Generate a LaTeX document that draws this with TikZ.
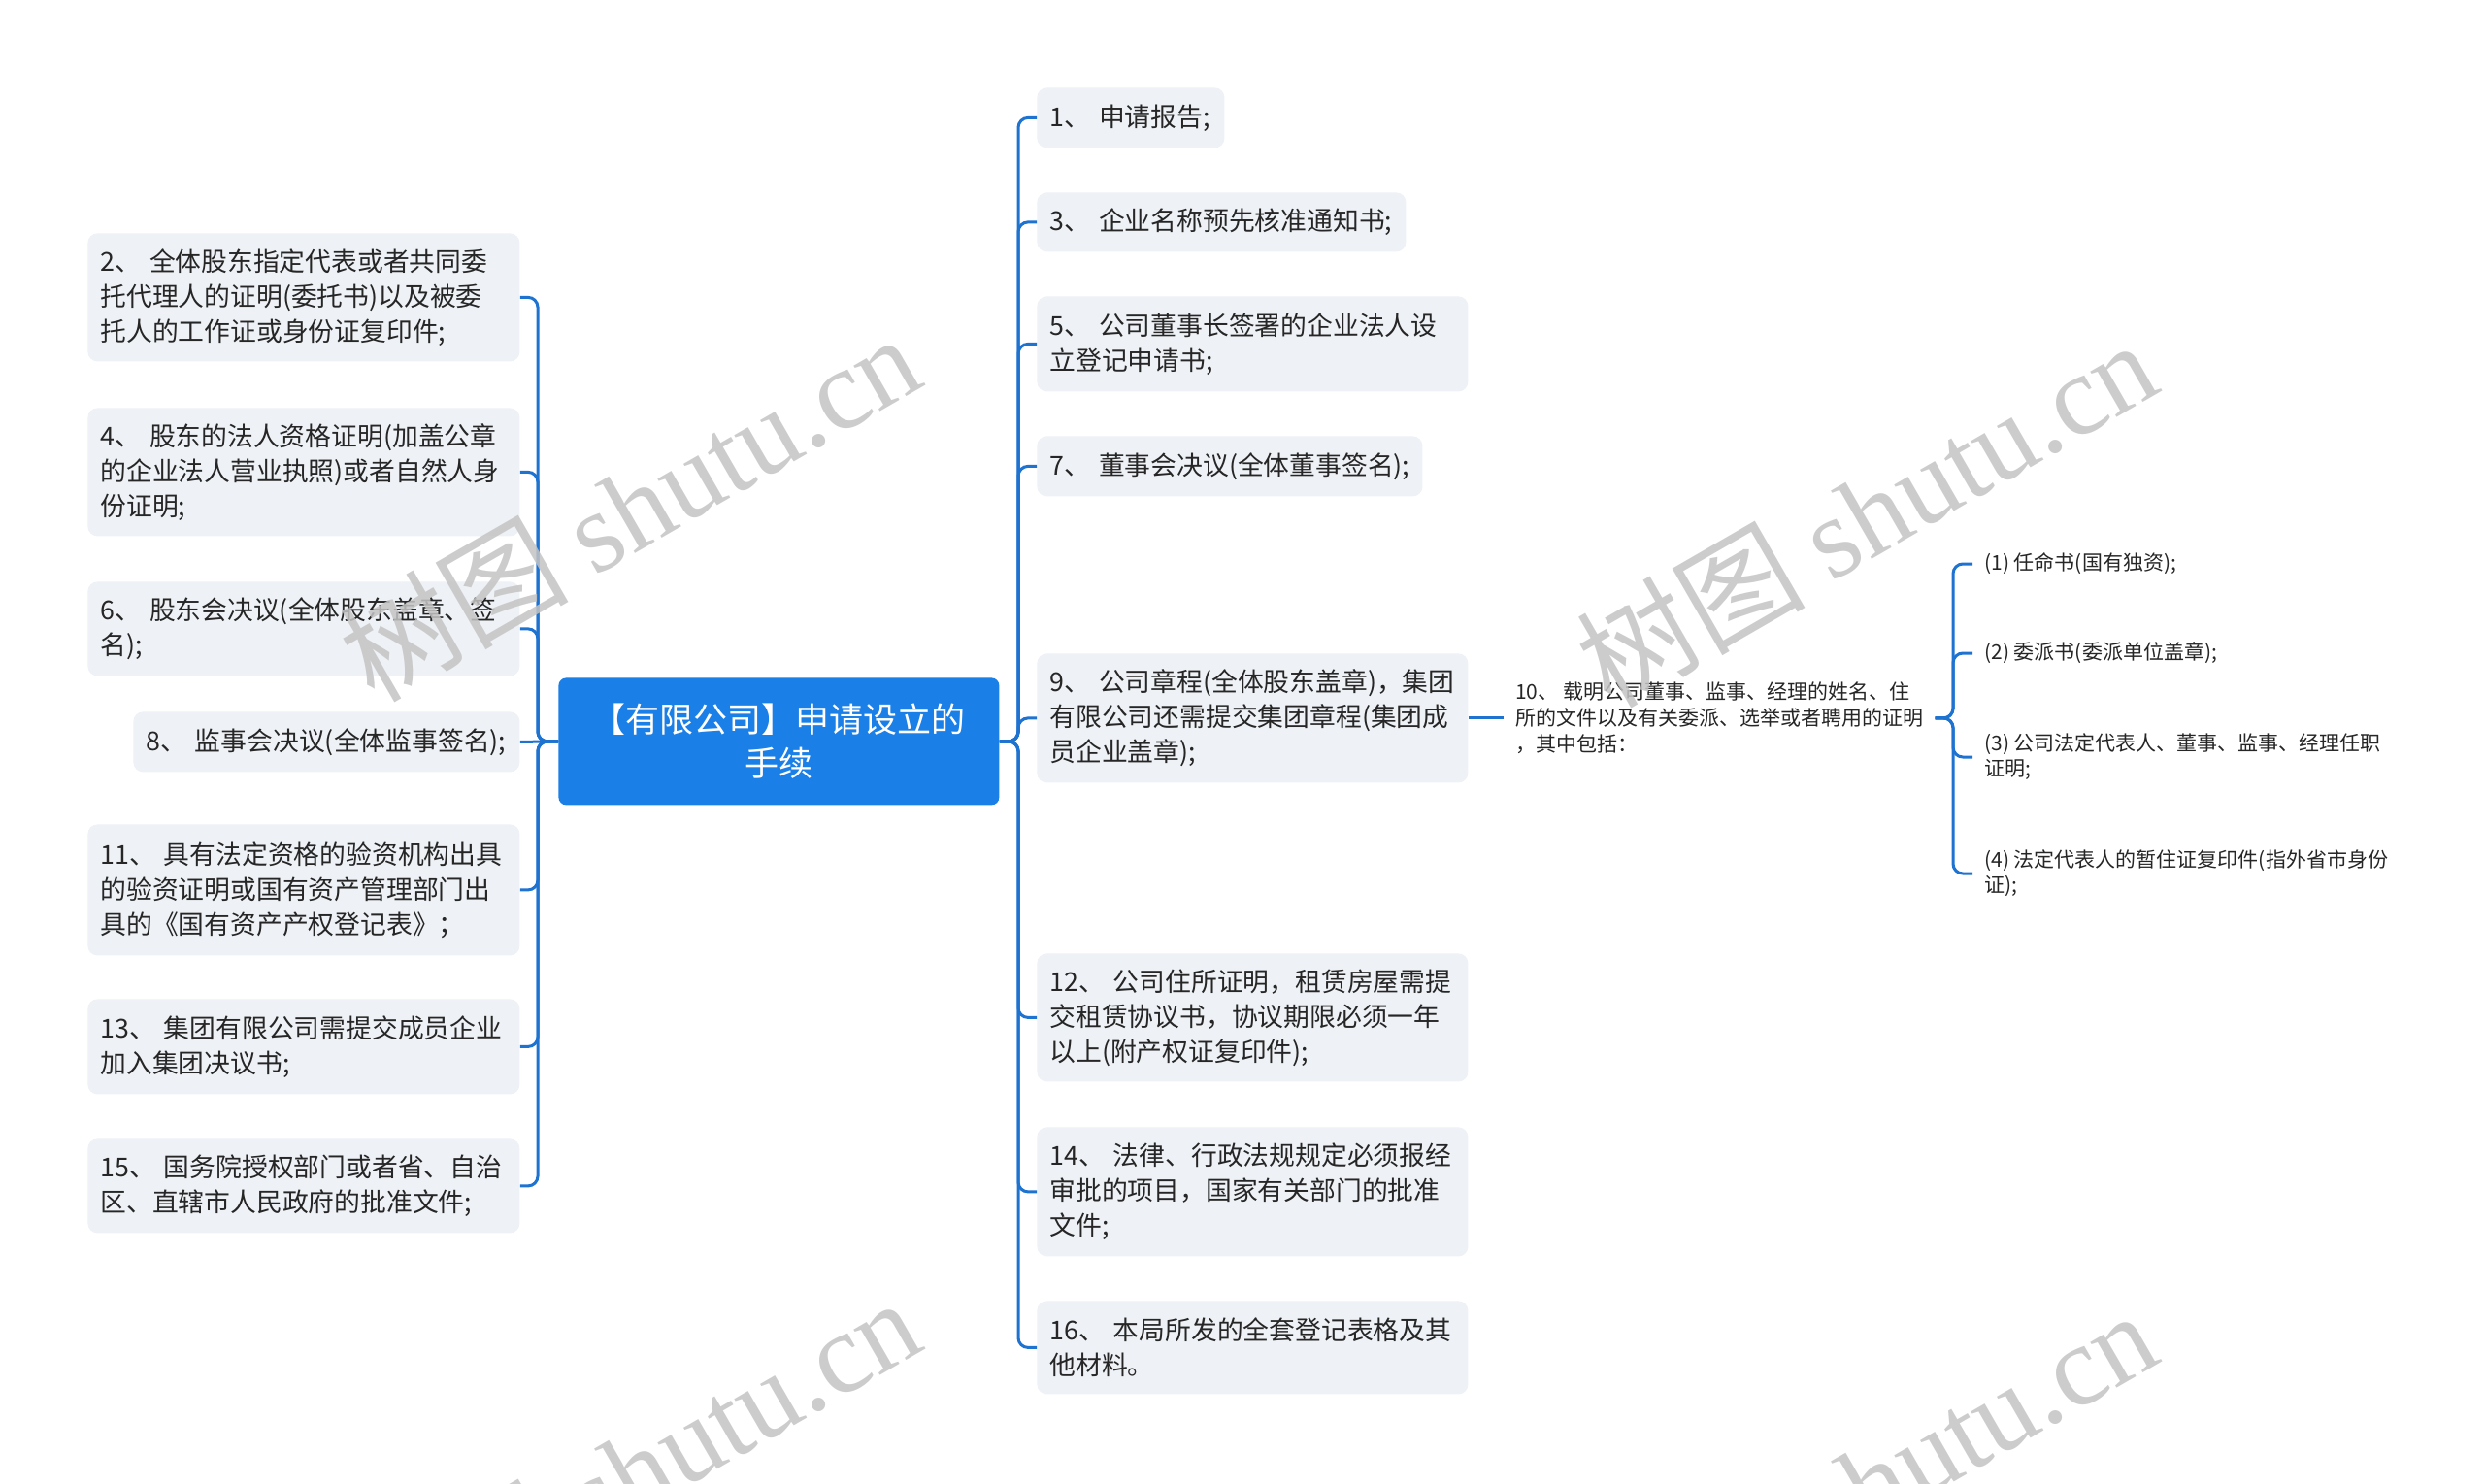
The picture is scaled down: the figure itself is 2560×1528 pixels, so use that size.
\documentclass[tikz,border=0pt]{standalone}
\usepackage{fontspec}
\setmainfont{Noto Sans CJK SC}
\newfontfamily\wmlatin{Liberation Serif}
\newfontfamily\wmcjk{Noto Sans CJK SC}
\usetikzlibrary{calc}
\definecolor{linkblue}{HTML}{1E72D0}
\definecolor{rootblue}{HTML}{1A7FE6}
\definecolor{boxgray}{HTML}{EEF1F5}
\definecolor{txtcol}{HTML}{262626}
\definecolor{wmcol}{HTML}{C4C4C4}
\hbadness=10000 \hfuzz=50pt
\begin{document}
\begin{tikzpicture}[x=0.5pt,y=-0.5pt,
  leaf/.style={fill=boxgray, rounded corners=5pt, inner xsep=6.5pt, inner ysep=0pt,
    align=left, text=txtcol, anchor=north west,
    font=\fontsize{13.4pt}{18pt}\selectfont},
  rootbox/.style={fill=rootblue, rounded corners=4pt, text=white, align=center,
    anchor=north west, inner sep=0pt,
    font=\fontsize{17.5pt}{22.5pt}\selectfont},
  plain/.style={inner xsep=6pt, inner ysep=2pt, align=left, text=txtcol,
    font=\fontsize{10.5pt}{13.5pt}\selectfont},
  subitem/.style={inner xsep=6pt, inner ysep=2pt, align=left, text=txtcol, anchor=west,
    font=\fontsize{10.5pt}{13pt}\selectfont},
  link/.style={draw=linkblue, line width=1.5pt, rounded corners=5pt},
  wmark/.style={text=wmcol, text opacity=0.85, font=\fontsize{59pt}{59pt}\selectfont, rotate=30}
]
\useasboundingbox (0,0) rectangle (2560,1528);
\fill[white] (0,0) rectangle (2560,1528);

\coordinate (ltrunk) at (554,0);
\coordinate (rtrunk) at (1049,0);
\coordinate (strunk) at (2012,0);

% root
\node[rootbox, minimum width=227pt, minimum height=65.5pt] (c) at (575,698)
  {【有限公司】申请设立的\\手续};

% left side
\node[leaf, text width=209.5pt, minimum height=66pt] (n2) at (90,240)
  {2、~全体股东指定代表或者共同委\\托代理人的证明(委托书)以及被委\\托人的工作证或身份证复印件;};
\node[leaf, text width=209.5pt, minimum height=66pt] (n4) at (90,420)
  {4、~股东的法人资格证明(加盖公章\\的企业法人营业执照)或者自然人身\\份证明;};
\node[leaf, text width=209.5pt, minimum height=48.5pt] (n6) at (90,599)
  {6、~股东会决议(全体股东盖章、签\\名);};
\node[leaf, text width=186pt, minimum height=31pt] (n8) at (137,733)
  {8、~监事会决议(全体监事签名);};
\node[leaf, text width=209.5pt, minimum height=67.5pt] (n11) at (90,849)
  {11、~具有法定资格的验资机构出具\\的验资证明或国有资产管理部门出\\具的《国有资产产权登记表》；};
\node[leaf, text width=209.5pt, minimum height=49pt] (n13) at (90,1029)
  {13、~集团有限公司需提交成员企业\\加入集团决议书;};
\node[leaf, text width=209.5pt, minimum height=48.5pt] (n15) at (90,1173)
  {15、~国务院授权部门或者省、自治\\区、直辖市人民政府的批准文件;};

% right side
\node[leaf, text width=83.5pt, minimum height=31pt] (r1) at (1068,90)
  {1、~申请报告;};
\node[leaf, text width=177pt, minimum height=30.5pt] (r3) at (1068,198)
  {3、~企业名称预先核准通知书;};
\node[leaf, text width=209pt, minimum height=49pt] (r5) at (1068,305)
  {5、~公司董事长签署的企业法人设\\立登记申请书;};
\node[leaf, text width=185.5pt, minimum height=31pt] (r7) at (1068,449)
  {7、~董事会决议(全体董事签名);};
\node[leaf, text width=209pt, minimum height=66.5pt] (r9) at (1068,673)
  {9、~公司章程(全体股东盖章)，集团\\有限公司还需提交集团章程(集团成\\员企业盖章);};
\node[leaf, text width=209pt, minimum height=66pt] (r12) at (1068,982)
  {12、~公司住所证明，租赁房屋需提\\交租赁协议书，协议期限必须一年\\以上(附产权证复印件);};
\node[leaf, text width=209pt, minimum height=66.5pt] (r14) at (1068,1161)
  {14、~法律、行政法规规定必须报经\\审批的项目，国家有关部门的批准\\文件;};
\node[leaf, text width=209pt, minimum height=48pt] (r16) at (1068,1340)
  {16、~本局所发的全套登记表格及其\\他材料。};

% node 10 and its children
\node[plain, anchor=west] (n10) at ([xshift=18pt]r9.east)
  {10、~载明公司董事、监事、经理的姓名、住\\所的文件以及有关委派、选举或者聘用的证明\\，其中包括：};
\node[subitem] (s1) at (2032,581) {(1)~任命书(国有独资);};
\node[subitem] (s2) at (2032,673) {(2)~委派书(委派单位盖章);};
\node[subitem] (s3) at (2032,780) {(3)~公司法定代表人、董事、监事、经理任职\\证明;};
\node[subitem] (s4) at (2032,900) {(4)~法定代表人的暂住证复印件(指外省市身份\\证);};

% connectors left
\foreach \n in {n2,n4,n6,n11,n13,n15}
  \draw[link] (c.west) -- (c.west -| ltrunk) |- (\n.east);
\draw[link] (c.west) -- (n8.east);
% connectors right
\foreach \n in {r1,r3,r5,r7,r9,r12,r14,r16}
  \draw[link] (c.east) -- (c.east -| rtrunk) |- (\n.west);
\draw[link] (r9.east) -- (n10.west);
\foreach \n in {s1,s2,s3,s4}
  \draw[link] (n10.east) -- (n10.east -| strunk) |- (\n.west);

% watermarks
\begin{scope}
\clip (0,0) rectangle (2560,1528);
\node[wmark] (wm1) at (648,522) {{\wmcjk 树图} {\wmlatin shutu.cn}};
\node[wmark] (wm2) at (1922,528) {{\wmcjk 树图} {\wmlatin shutu.cn}};
\node[wmark] (wm3) at (648,1515) {{\wmcjk 树图} {\wmlatin shutu.cn}};
\node[wmark] (wm4) at (1922,1528) {{\wmcjk 树图} {\wmlatin shutu.cn}};
\end{scope}
\end{tikzpicture}
\end{document}
